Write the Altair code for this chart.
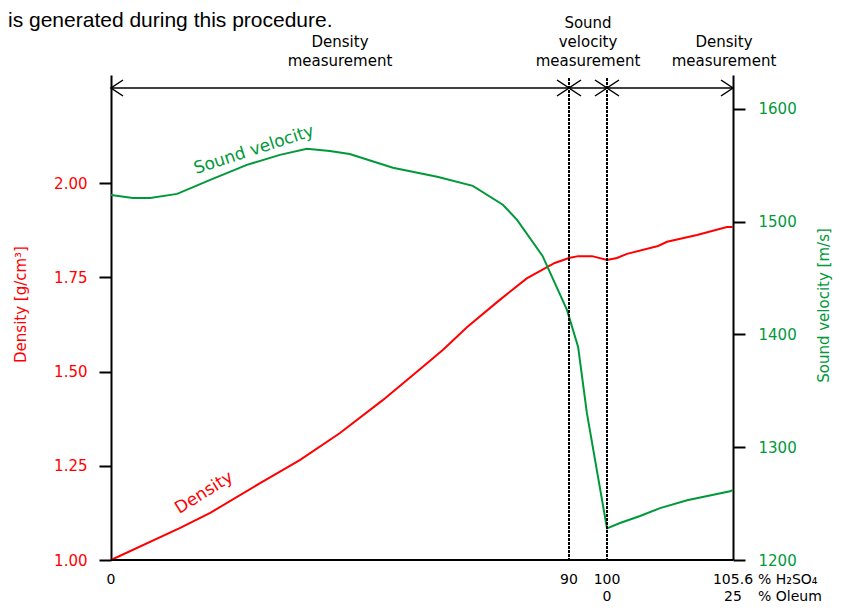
import altair as alt
import pandas as pd

RED = "#ff0000"
GREEN = "#00993a"
FONT = "DejaVu Sans"

# Density curve (x in % H2SO4 equivalent; beyond 100 = oleum region)
dens_x = [0, 13.6, 19.5, 29.3, 37.1, 45.0, 53.4, 60.7, 65.2, 70.0, 76.4, 81.7, 87.2,
          90.0, 92.4, 96.1, 100.0, 100.44, 100.89, 102.27, 102.67, 104.0, 105.33, 105.6]
dens_y = [1.000, 1.085, 1.125, 1.204, 1.265, 1.337, 1.424, 1.506, 1.557, 1.618, 1.690,
          1.747, 1.788, 1.801, 1.806, 1.806, 1.796, 1.801, 1.812, 1.833, 1.844, 1.862,
          1.883, 1.883]

# Sound velocity curve
vel_x = [0, 4.3, 7.7, 13, 19.5, 26.7, 33.2, 38.5, 43, 46.9, 55.4, 64.1, 71.1, 77,
         79.8, 84.8, 89.6, 92.4, 94.7, 100, 100.58, 101.47, 102.36, 103.56, 105.47, 105.6]
vel_y = [1523.7, 1521, 1521, 1524.6, 1537, 1550.3, 1559.2, 1564.5, 1562.7, 1560,
         1547.7, 1539.7, 1531.7, 1515, 1501.6, 1469.6, 1421.7, 1388.9, 1330.4, 1228,
         1232.8, 1239, 1246, 1253, 1261, 1262]

# Axis ticks / labels
x_ticks = [0, 90, 100, 105.6]
x_tick_lbl = ["0", "90", "100", "105.6"]
oleum_pos = [100, 105.6]
oleum_lbl = ["0", "25"]
dens_ticks = [1.00, 1.25, 1.50, 1.75, 2.00]
vel_ticks = [1200, 1300, 1400, 1500, 1600]

# Measurement regions
seg_start = [0, 90, 100]
seg_end = [90, 100, 105.6]
region2_x = [45, 105.2]
region2_text = ["Density\nmeasurement", "Density\nmeasurement"]
region3_x = [95]
region3_text = ["Sound\nvelocity\nmeasurement"]
head_x = [0, 90, 90, 100, 100, 105.6]
head_dir = ["L", "R", "L", "R", "L", "R"]
vlines = [90, 100]

W, H = 622, 485
xs = alt.Scale(domain=[0, 90, 100, 105.6], range=[0, 458, 496, 622], nice=False, zero=False)
ys_d = alt.Scale(domain=[1.0, 2.2865], nice=False, zero=False)
ys_v = alt.Scale(domain=[1200, 1630], nice=False, zero=False)


def X(field="x"):
    return alt.X(f"{field}:Q", scale=xs, axis=None)


dens_df = pd.DataFrame({"x": dens_x, "y": dens_y})
vel_df = pd.DataFrame({"x": vel_x, "y": vel_y})

dens_line = alt.Chart(dens_df).mark_line(color=RED, strokeWidth=2).encode(
    x=X(),
    y=alt.Y("y:Q", scale=ys_d, axis=alt.Axis(
        orient="left", values=dens_ticks, format=".2f", tickSize=12, labelPadding=12,
        labelColor=RED, title="Density [g/cm³]", titleColor=RED, titleX=-91, titleY=229,
        titleAngle=270, titleBaseline="middle", titleAlign="center", grid=False,
        domainColor="black", tickColor="black", domainWidth=2, tickWidth=2)),
    order="x:Q",
)

vel_line = alt.Chart(vel_df).mark_line(color=GREEN, strokeWidth=2).encode(
    x=X(),
    y=alt.Y("y:Q", scale=ys_v, axis=alt.Axis(
        orient="right", values=vel_ticks, format="d", tickSize=12, labelPadding=13,
        labelColor=GREEN, title="Sound velocity [m/s]", titleColor=GREEN, titleX=90,
        titleY=230, titleAngle=270, titleBaseline="middle", titleAlign="center",
        grid=False, domainColor="black", tickColor="black", domainWidth=2, tickWidth=2)),
    order="x:Q",
)

# bottom axis line and labels
x_domain = alt.Chart(pd.DataFrame({"x": [0], "x2": [105.6]})).mark_rule(
    color="black", strokeWidth=2
).encode(x=X(), x2="x2:Q", y=alt.value(H))

x_labels = alt.Chart(pd.DataFrame({"x": x_ticks, "t": x_tick_lbl})).mark_text(
    font=FONT, fontSize=14, color="black", align="center", baseline="middle"
).encode(x=X(), y=alt.value(H + 20), text="t:N")

oleum = alt.Chart(pd.DataFrame({"x": oleum_pos, "t": oleum_lbl})).mark_text(
    font=FONT, fontSize=14, color="black", align="center", baseline="middle"
).encode(x=X(), y=alt.value(H + 37), text="t:N")

unit1 = alt.Chart(pd.DataFrame({"x": [105.6], "t": ["% H₂SO₄"]})).mark_text(
    font=FONT, fontSize=14, color="black", align="left", baseline="middle", dx=25
).encode(x=X(), y=alt.value(H + 20), text="t:N")

unit2 = alt.Chart(pd.DataFrame({"x": [105.6], "t": ["% Oleum"]})).mark_text(
    font=FONT, fontSize=14, color="black", align="left", baseline="middle", dx=25
).encode(x=X(), y=alt.value(H + 37), text="t:N")

dens_label = alt.Chart(pd.DataFrame({"x": [18.3], "y": [1.178], "t": ["Density"]})).mark_text(
    font=FONT, fontSize=17, color=RED, angle=328, align="center", baseline="middle"
).encode(x=X(), y=alt.Y("y:Q", scale=ys_d, axis=None), text="t:N")

vel_label = alt.Chart(pd.DataFrame({"x": [28.1], "y": [1563.6], "t": ["Sound velocity"]})).mark_text(
    font=FONT, fontSize=17, color=GREEN, angle=342, align="center", baseline="middle"
).encode(x=X(), y=alt.Y("y:Q", scale=ys_v, axis=None), text="t:N")

vrules = alt.Chart(pd.DataFrame({"x": vlines})).mark_rule(
    color="black", strokeWidth=2, strokeDash=[3, 1]
).encode(x=X(), y=alt.value(3), y2=alt.value(H))

shafts = alt.Chart(pd.DataFrame({"x": seg_start, "x2": seg_end})).mark_rule(
    color="black", strokeWidth=1.5
).encode(x=X(), x2="x2:Q", y=alt.value(13))

path_l = "M 1.5 -1 L 0 0 L 1.5 1"
path_r = "M -1.5 -1 L 0 0 L -1.5 1"
heads = alt.Chart(pd.DataFrame({"x": head_x, "d": head_dir})).mark_point(
    filled=False, color="black", strokeWidth=1.5, size=256, opacity=1
).encode(
    x=X(), y=alt.value(13),
    shape=alt.Shape("d:N", scale=alt.Scale(domain=["L", "R"], range=[path_l, path_r]), legend=None),
)

regions2 = alt.Chart(pd.DataFrame({"x": region2_x, "t": region2_text})).mark_text(
    font=FONT, fontSize=15, color="black", align="center", baseline="alphabetic",
    lineBreak="\n", lineHeight=19
).encode(x=X(), y=alt.value(-28), text="t:N")

regions3 = alt.Chart(pd.DataFrame({"x": region3_x, "t": region3_text})).mark_text(
    font=FONT, fontSize=15, color="black", align="center", baseline="alphabetic",
    lineBreak="\n", lineHeight=19
).encode(x=X(), y=alt.value(-47), text="t:N")

caption = alt.Chart(pd.DataFrame({"t": ["is generated during this procedure."]})).mark_text(
    font="Liberation Sans", fontSize=21, color="black", align="left", baseline="alphabetic"
).encode(x=alt.value(-103), y=alt.value(-48), text="t:N")

chart = alt.layer(
    dens_line, vel_line, x_domain, x_labels, oleum, unit1, unit2, dens_label, vel_label,
    vrules, shafts, heads, regions2, regions3, caption
).resolve_scale(y="independent", shape="independent").properties(
    width=W, height=H,
    background="white",
    autosize=alt.AutoSizeParams(type="none"),
    padding={"left": 103, "top": 67, "right": 101, "bottom": 45},
).configure_view(stroke=None).configure_axis(
    labelFont=FONT, labelFontSize=15, titleFont=FONT, titleFontSize=15,
    titleFontWeight="normal"
)

chart.save("out.html", embed_options={"renderer": "svg", "actions": False})
